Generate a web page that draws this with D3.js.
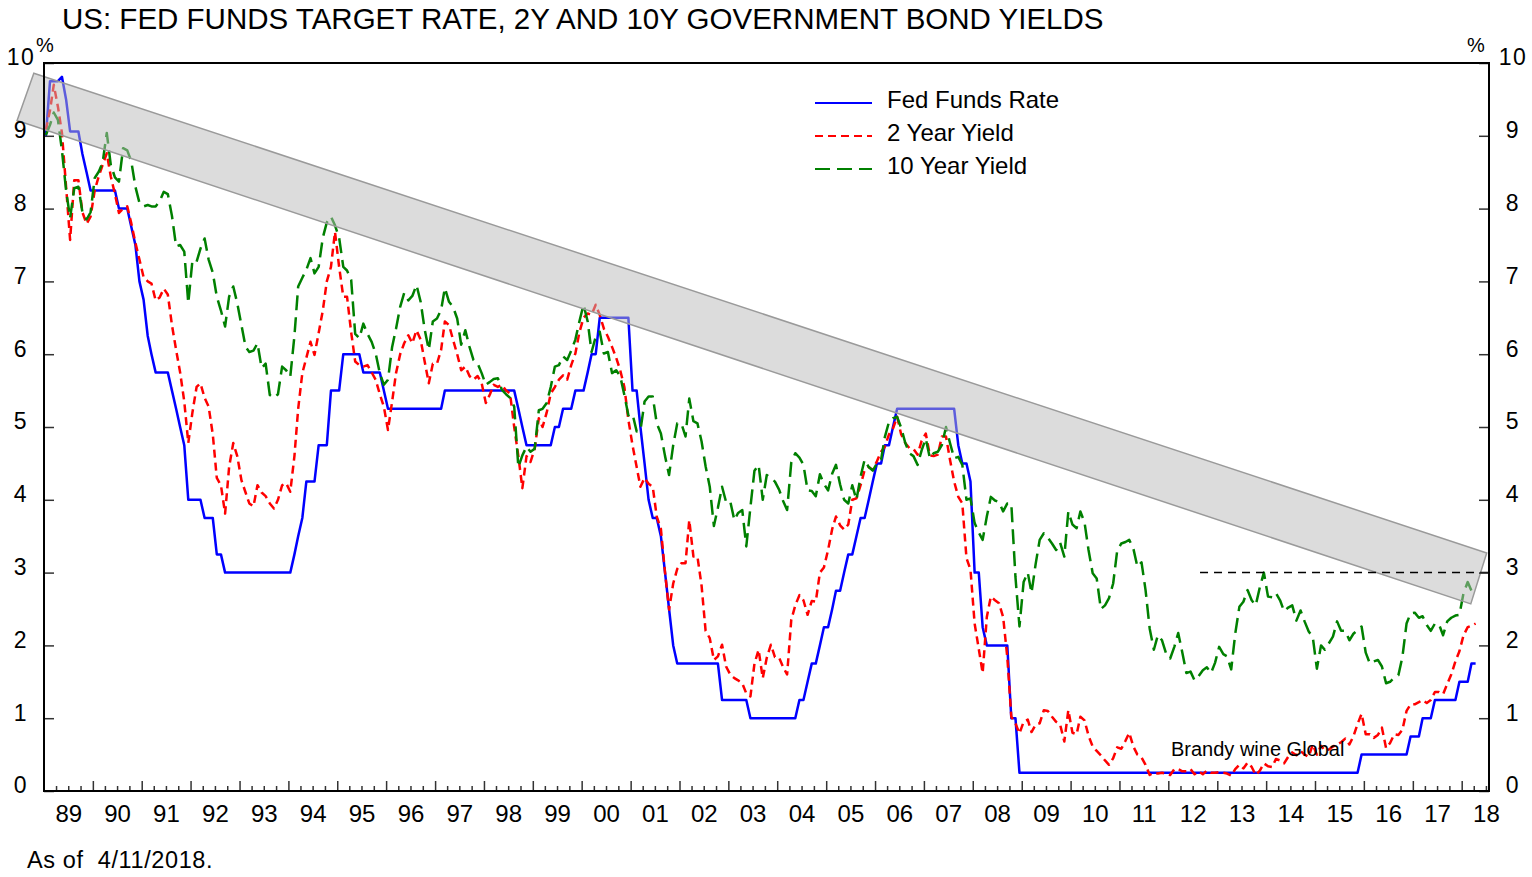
<!DOCTYPE html>
<html>
<head>
<meta charset="utf-8">
<script src="https://cdn.jsdelivr.net/npm/d3@7"></script>
<style>
  body { margin: 0; background: #fff; }
  svg { display: block; font-family: "Liberation Sans", Arial, sans-serif; }
</style>
</head>
<body>
<div id="chart"></div>
<script>
// monthly values, Jan 1989 .. Apr 2018
const startYear = 1989;

const fedFunds = [
  9.00, 9.75, 9.75, 9.75, 9.81, 9.50, 9.06, 9.06, 9.06, 8.75, 8.50, 8.25,
  8.25, 8.25, 8.25, 8.25, 8.25, 8.25, 8.00, 8.00, 8.00, 7.75, 7.50, 7.00,
  6.75, 6.25, 6.00, 5.75, 5.75, 5.75, 5.75, 5.50, 5.25, 5.00, 4.75, 4.00,
  4.00, 4.00, 4.00, 3.75, 3.75, 3.75, 3.25, 3.25, 3.00, 3.00, 3.00, 3.00,
  3.00, 3.00, 3.00, 3.00, 3.00, 3.00, 3.00, 3.00, 3.00, 3.00, 3.00, 3.00,
  3.00, 3.25, 3.50, 3.75, 4.25, 4.25, 4.25, 4.75, 4.75, 4.75, 5.50, 5.50,
  5.50, 6.00, 6.00, 6.00, 6.00, 6.00, 5.75, 5.75, 5.75, 5.75, 5.75, 5.50,
  5.25, 5.25, 5.25, 5.25, 5.25, 5.25, 5.25, 5.25, 5.25, 5.25, 5.25, 5.25,
  5.25, 5.25, 5.50, 5.50, 5.50, 5.50, 5.50, 5.50, 5.50, 5.50, 5.50, 5.50,
  5.50, 5.50, 5.50, 5.50, 5.50, 5.50, 5.50, 5.50, 5.25, 5.00, 4.75, 4.75,
  4.75, 4.75, 4.75, 4.75, 4.75, 5.00, 5.00, 5.25, 5.25, 5.25, 5.50, 5.50,
  5.50, 5.75, 6.00, 6.00, 6.50, 6.50, 6.50, 6.50, 6.50, 6.50, 6.50, 6.50,
  5.50, 5.50, 5.00, 4.50, 4.00, 3.75, 3.75, 3.50, 3.00, 2.50, 2.00, 1.75,
  1.75, 1.75, 1.75, 1.75, 1.75, 1.75, 1.75, 1.75, 1.75, 1.75, 1.25, 1.25,
  1.25, 1.25, 1.25, 1.25, 1.25, 1.00, 1.00, 1.00, 1.00, 1.00, 1.00, 1.00,
  1.00, 1.00, 1.00, 1.00, 1.00, 1.25, 1.25, 1.50, 1.75, 1.75, 2.00, 2.25,
  2.25, 2.50, 2.75, 2.75, 3.00, 3.25, 3.25, 3.50, 3.75, 3.75, 4.00, 4.25,
  4.50, 4.50, 4.75, 4.75, 5.00, 5.25, 5.25, 5.25, 5.25, 5.25, 5.25, 5.25,
  5.25, 5.25, 5.25, 5.25, 5.25, 5.25, 5.25, 5.25, 4.75, 4.50, 4.50, 4.25,
  3.00, 3.00, 2.25, 2.00, 2.00, 2.00, 2.00, 2.00, 2.00, 1.00, 1.00, 0.25,
  0.25, 0.25, 0.25, 0.25, 0.25, 0.25, 0.25, 0.25, 0.25, 0.25, 0.25, 0.25,
  0.25, 0.25, 0.25, 0.25, 0.25, 0.25, 0.25, 0.25, 0.25, 0.25, 0.25, 0.25,
  0.25, 0.25, 0.25, 0.25, 0.25, 0.25, 0.25, 0.25, 0.25, 0.25, 0.25, 0.25,
  0.25, 0.25, 0.25, 0.25, 0.25, 0.25, 0.25, 0.25, 0.25, 0.25, 0.25, 0.25,
  0.25, 0.25, 0.25, 0.25, 0.25, 0.25, 0.25, 0.25, 0.25, 0.25, 0.25, 0.25,
  0.25, 0.25, 0.25, 0.25, 0.25, 0.25, 0.25, 0.25, 0.25, 0.25, 0.25, 0.25,
  0.25, 0.25, 0.25, 0.25, 0.25, 0.25, 0.25, 0.25, 0.25, 0.25, 0.25, 0.50,
  0.50, 0.50, 0.50, 0.50, 0.50, 0.50, 0.50, 0.50, 0.50, 0.50, 0.50, 0.75,
  0.75, 0.75, 1.00, 1.00, 1.00, 1.25, 1.25, 1.25, 1.25, 1.25, 1.25, 1.50,
  1.50, 1.50, 1.75, 1.75
];

const twoYear = [
  9.08, 9.35, 9.70, 9.40, 9.04, 8.30, 7.57, 8.39, 8.39, 7.95, 7.79, 7.89,
  8.25, 8.45, 8.60, 8.76, 8.44, 8.20, 7.94, 8.00, 8.03, 7.80, 7.53, 7.30,
  7.06, 7.00, 6.97, 6.74, 6.78, 6.90, 6.82, 6.40, 6.06, 5.75, 5.35, 4.78,
  5.20, 5.55, 5.60, 5.40, 5.28, 4.90, 4.30, 4.20, 3.81, 4.45, 4.78, 4.60,
  4.27, 4.10, 3.95, 3.91, 4.20, 4.10, 4.05, 3.95, 3.88, 4.00, 4.20, 4.23,
  4.11, 4.60, 5.25, 5.74, 5.95, 6.17, 5.99, 6.29, 6.60, 7.00, 7.20, 7.68,
  7.20, 6.79, 6.79, 6.30, 5.90, 5.85, 5.83, 5.85, 5.75, 5.65, 5.45, 5.28,
  4.96, 5.35, 5.74, 6.00, 6.15, 6.26, 6.15, 6.33, 6.20, 5.90, 5.60, 5.87,
  5.87, 6.06, 6.45, 6.40, 6.20, 6.00, 5.78, 5.83, 5.70, 5.65, 5.70, 5.60,
  5.33, 5.45, 5.58, 5.55, 5.58, 5.50, 5.46, 5.00, 4.60, 4.16, 4.60, 4.52,
  4.70, 5.12, 5.00, 5.20, 5.46, 5.55, 5.65, 5.71, 5.65, 5.85, 6.01, 6.30,
  6.50, 6.56, 6.54, 6.68, 6.54, 6.35, 6.24, 6.10, 5.95, 5.78, 5.55, 5.10,
  4.75, 4.45, 4.18, 4.30, 4.22, 4.18, 3.77, 3.60, 3.00, 2.49, 2.85, 3.05,
  3.13, 3.13, 3.72, 3.22, 3.22, 2.82, 2.20, 2.10, 1.80, 1.85, 2.01, 1.71,
  1.60, 1.55, 1.52, 1.48, 1.34, 1.30, 1.75, 1.94, 1.55, 1.83, 2.01, 1.84,
  1.83, 1.70, 1.60, 2.35, 2.55, 2.69, 2.62, 2.42, 2.61, 2.60, 3.00, 3.07,
  3.31, 3.60, 3.77, 3.65, 3.59, 3.66, 4.00, 4.02, 4.20, 4.41, 4.45, 4.41,
  4.53, 4.66, 4.73, 4.90, 4.98, 5.14, 4.90, 4.78, 4.71, 4.70, 4.62, 4.81,
  4.91, 4.61, 4.60, 4.62, 4.87, 4.87, 4.55, 4.25, 4.04, 3.95, 3.20, 3.04,
  2.30, 1.95, 1.62, 2.39, 2.67, 2.62, 2.58, 2.39, 1.84, 1.02, 0.93, 0.79,
  0.95, 0.98, 0.81, 0.91, 0.93, 1.11, 1.10, 1.02, 0.95, 0.91, 0.68, 1.11,
  0.80, 0.78, 1.02, 0.97, 0.76, 0.61, 0.55, 0.49, 0.42, 0.36, 0.45, 0.60,
  0.58, 0.69, 0.80, 0.61, 0.50, 0.46, 0.36, 0.22, 0.25, 0.24, 0.25, 0.24,
  0.22, 0.30, 0.30, 0.27, 0.27, 0.30, 0.23, 0.27, 0.23, 0.28, 0.25, 0.25,
  0.26, 0.25, 0.24, 0.21, 0.30, 0.36, 0.31, 0.39, 0.33, 0.22, 0.28, 0.38,
  0.34, 0.33, 0.44, 0.42, 0.38, 0.47, 0.53, 0.49, 0.55, 0.50, 0.47, 0.64,
  0.50, 0.62, 0.56, 0.57, 0.61, 0.64, 0.67, 0.72, 0.64, 0.75, 0.92, 1.06,
  0.78, 0.78, 0.73, 0.77, 0.87, 0.59, 0.66, 0.78, 0.77, 0.84, 1.10, 1.19,
  1.19, 1.22, 1.25, 1.21, 1.25, 1.36, 1.36, 1.33, 1.47, 1.60, 1.78, 1.92,
  2.14, 2.25, 2.27, 2.30
];

const tenYear = [
  9.01, 9.15, 9.32, 9.22, 8.80, 8.25, 7.87, 8.28, 8.30, 7.95, 7.85, 7.95,
  8.42, 8.51, 8.63, 9.04, 8.60, 8.43, 8.37, 8.83, 8.80, 8.65, 8.30, 8.08,
  8.03, 8.05, 8.03, 8.03, 8.10, 8.23, 8.20, 7.90, 7.48, 7.50, 7.41, 6.70,
  7.29, 7.27, 7.45, 7.59, 7.30, 7.12, 6.79, 6.60, 6.38, 6.79, 6.93, 6.70,
  6.40, 6.10, 6.03, 6.05, 6.15, 5.81, 5.87, 5.44, 5.40, 5.45, 5.83, 5.78,
  5.69, 6.25, 6.93, 7.05, 7.16, 7.32, 7.11, 7.20, 7.60, 7.81, 7.89, 7.77,
  7.60, 7.20, 7.15, 7.02, 6.28, 6.22, 6.42, 6.28, 6.17, 6.01, 5.74, 5.58,
  5.65, 6.10, 6.35, 6.65, 6.84, 6.74, 6.80, 6.95, 6.72, 6.34, 6.06, 6.45,
  6.49, 6.61, 6.91, 6.72, 6.65, 6.49, 6.13, 6.33, 6.10, 5.92, 5.87, 5.74,
  5.58, 5.62, 5.66, 5.67, 5.51, 5.45, 5.40, 5.28, 4.45, 4.61, 4.73, 4.66,
  4.70, 5.23, 5.25, 5.33, 5.55, 5.83, 5.85, 5.97, 5.92, 6.05, 6.20, 6.45,
  6.68, 6.45, 6.03, 6.24, 6.31, 6.01, 6.03, 5.74, 5.78, 5.70, 5.44, 5.16,
  5.18, 4.94, 4.95, 5.35, 5.42, 5.42, 5.05, 4.91, 4.60, 4.34, 4.75, 5.05,
  5.05, 4.87, 5.39, 5.08, 5.05, 4.80, 4.46, 4.18, 3.64, 3.89, 4.18, 3.97,
  3.98, 3.72, 3.82, 3.86, 3.36, 3.90, 4.40, 4.48, 4.00, 4.34, 4.30, 4.25,
  4.14, 3.98, 3.86, 4.51, 4.64, 4.58, 4.48, 4.13, 4.12, 4.05, 4.35, 4.22,
  4.13, 4.36, 4.48, 4.21, 4.00, 3.95, 4.20, 4.00, 4.32, 4.55, 4.45, 4.40,
  4.50, 4.55, 4.86, 5.07, 5.12, 5.14, 4.99, 4.78, 4.64, 4.60, 4.48, 4.68,
  4.84, 4.57, 4.64, 4.66, 4.75, 5.00, 4.78, 4.57, 4.59, 4.48, 4.00, 4.02,
  3.68, 3.55, 3.45, 3.77, 4.04, 3.99, 3.97, 3.84, 3.95, 3.95, 2.94, 2.26,
  2.87, 3.00, 2.72, 3.12, 3.45, 3.54, 3.48, 3.40, 3.31, 3.41, 3.22, 3.84,
  3.66, 3.61, 3.84, 3.69, 3.31, 2.99, 2.92, 2.50, 2.55, 2.65, 2.85, 3.30,
  3.40, 3.42, 3.45, 3.33, 3.08, 3.14, 2.76, 2.23, 1.94, 2.14, 2.07, 1.89,
  1.82, 1.98, 2.17, 1.90, 1.62, 1.64, 1.52, 1.58, 1.66, 1.70, 1.62, 1.76,
  1.98, 1.88, 1.85, 1.67, 2.16, 2.53, 2.60, 2.76, 2.62, 2.55, 2.80, 3.00,
  2.67, 2.66, 2.72, 2.62, 2.47, 2.52, 2.55, 2.34, 2.48, 2.33, 2.19, 2.12,
  1.68, 2.00, 1.94, 2.03, 2.12, 2.33, 2.20, 2.20, 2.07, 2.16, 2.21, 2.26,
  1.90, 1.75, 1.78, 1.80, 1.71, 1.48, 1.50, 1.56, 1.59, 1.84, 2.30, 2.44,
  2.45, 2.38, 2.40, 2.28, 2.20, 2.30, 2.29, 2.14, 2.33, 2.38, 2.41, 2.42,
  2.72, 2.87, 2.75, 2.79
];

const seriesNames = ["Fed Funds Rate", "2 Year Yield", "10 Year Yield"];
const yTicks = [0, 1, 2, 3, 4, 5, 6, 7, 8, 9, 10];
const yearLabels = ["89", "90", "91", "92", "93", "94", "95", "96", "97", "98",
  "99", "00", "01", "02", "03", "04", "05", "06", "07", "08",
  "09", "10", "11", "12", "13", "14", "15", "16", "17", "18"];

// trend channel drawn over the lines (corners in date / percent)
const trendBand = [
  { date: new Date(1988, 9, 17), value: 9.86 },
  { date: new Date(2018, 6, 7), value: 3.27 },
  { date: new Date(2018, 2, 10), value: 2.57 },
  { date: new Date(1988, 5, 14), value: 9.21 }
];
const resistance = { value: 3, from: new Date(2012, 7, 25) };

const W = 1532, H = 877;
const plot = { left: 44, right: 1489, top: 63, bottom: 791 };

const svg = d3.select("#chart").append("svg")
  .attr("width", W)
  .attr("height", H);

const monthDate = i => new Date(startYear + Math.floor(i / 12), i % 12, 15);

const x = d3.scaleTime()
  .domain([new Date(1989, 0, 1), new Date(2018, 6, 24)])
  .range([plot.left, plot.right]);
const y = d3.scaleLinear()
  .domain([0, 10])
  .range([plot.bottom, plot.top]);

const styles = [
  { color: "#0000ff", dash: null },
  { color: "#ff0000", dash: "8,5" },
  { color: "#008000", dash: "15,7" }
];

const line = d3.line()
  .x((d, i) => x(monthDate(i)))
  .y(d => y(d));

// title
svg.append("text")
  .attr("x", 62).attr("y", 29)
  .attr("font-size", 29.5)
  .text("US: FED FUNDS TARGET RATE, 2Y AND 10Y GOVERNMENT BOND YIELDS");

// series
[fedFunds, twoYear, tenYear].forEach((s, k) => {
  svg.append("path")
    .datum(s)
    .attr("d", line)
    .attr("fill", "none")
    .attr("stroke", styles[k].color)
    .attr("stroke-width", 2.5)
    .attr("stroke-dasharray", styles[k].dash)
    .attr("stroke-linejoin", "round");
});

// trend band
svg.append("path")
  .datum(trendBand)
  .attr("d", d3.line().x(d => x(d.date)).y(d => y(d.value)).curve(d3.curveLinearClosed))
  .attr("fill", "#b9b9b9")
  .attr("fill-opacity", 0.5)
  .attr("stroke", "#9a9a9a")
  .attr("stroke-width", 1.5);

// dashed 3% level
svg.append("line")
  .attr("x1", x(resistance.from)).attr("x2", plot.right)
  .attr("y1", y(resistance.value)).attr("y2", y(resistance.value))
  .attr("stroke", "#000")
  .attr("stroke-width", 1.5)
  .attr("stroke-dasharray", "8,6");

// axes
const styleAxis = g => {
  g.select(".domain").remove();
  g.selectAll(".tick line").attr("stroke", "#333").attr("stroke-width", 1.5);
  g.selectAll("text").attr("font-size", 23).attr("fill", "#000")
    .attr("font-family", "Liberation Sans, Arial, sans-serif");
};

svg.append("g")
  .attr("transform", `translate(${plot.left},0)`)
  .call(d3.axisLeft(y).tickValues(yTicks).tickSize(-10).tickFormat(d3.format("d")))
  .call(styleAxis)
  .call(g => g.selectAll("text").attr("text-anchor", "middle").attr("x", -23)
    .attr("dy", "0.08em").attr("letter-spacing", 1.5));

svg.append("g")
  .attr("transform", `translate(${plot.right},0)`)
  .call(d3.axisRight(y).tickValues(yTicks).tickSize(-10).tickFormat(d3.format("d")))
  .call(styleAxis)
  .call(g => g.selectAll("text").attr("text-anchor", "middle").attr("x", 24)
    .attr("dy", "0.08em").attr("letter-spacing", 1.5));

const yearStarts = yearLabels.slice(1).map((d, i) => new Date(startYear + i + 1, 0, 1));
const quarters = [];
yearLabels.forEach((d, i) => [3, 6, 9].forEach(m => {
  const q = new Date(startYear + i, m, 1);
  if (q < x.domain()[1]) quarters.push(q);
}));
const yearMids = yearLabels.map((d, i) => new Date(startYear + i, 6, 1));

svg.append("g")
  .attr("transform", `translate(0,${plot.bottom})`)
  .call(d3.axisBottom(x).tickValues(quarters).tickSize(-5).tickFormat(""))
  .call(styleAxis);

svg.append("g")
  .attr("transform", `translate(0,${plot.bottom})`)
  .call(d3.axisBottom(x).tickValues(yearStarts).tickSize(-10).tickFormat(""))
  .call(styleAxis);

svg.append("g")
  .attr("transform", `translate(0,${plot.bottom})`)
  .call(d3.axisBottom(x).tickValues(yearMids).tickSize(0).tickPadding(14)
    .tickFormat((d, i) => yearLabels[i]))
  .call(styleAxis)
  .call(g => g.selectAll("text").attr("font-size", 24));

// frame
svg.append("rect")
  .attr("x", plot.left).attr("y", plot.top)
  .attr("width", plot.right - plot.left).attr("height", plot.bottom - plot.top)
  .attr("fill", "none").attr("stroke", "#000").attr("stroke-width", 2);

// units
svg.append("text").attr("x", 36).attr("y", 52).attr("font-size", 20).text("%");
svg.append("text").attr("x", 1467).attr("y", 52).attr("font-size", 20).text("%");

// legend
const legend = svg.append("g").attr("transform", "translate(815,103)");
seriesNames.forEach((name, k) => {
  const row = legend.append("g").attr("transform", `translate(0,${k * 33})`);
  row.append("line")
    .attr("x1", 0).attr("x2", 57)
    .attr("stroke", styles[k].color)
    .attr("stroke-width", 2)
    .attr("stroke-dasharray", styles[k].dash);
  row.append("text")
    .attr("x", 72).attr("y", 5)
    .attr("font-size", 24)
    .text(name);
});

// watermark
svg.append("text")
  .attr("x", 1171).attr("y", 756)
  .attr("font-size", 20)
  .text("Brandy wine Global");

// footnote
svg.append("text")
  .attr("x", 27).attr("y", 868)
  .attr("font-size", 23.5)
  .attr("letter-spacing", 0.6)
  .style("white-space", "pre")
  .text("As of  4/11/2018.");
</script>
</body>
</html>
